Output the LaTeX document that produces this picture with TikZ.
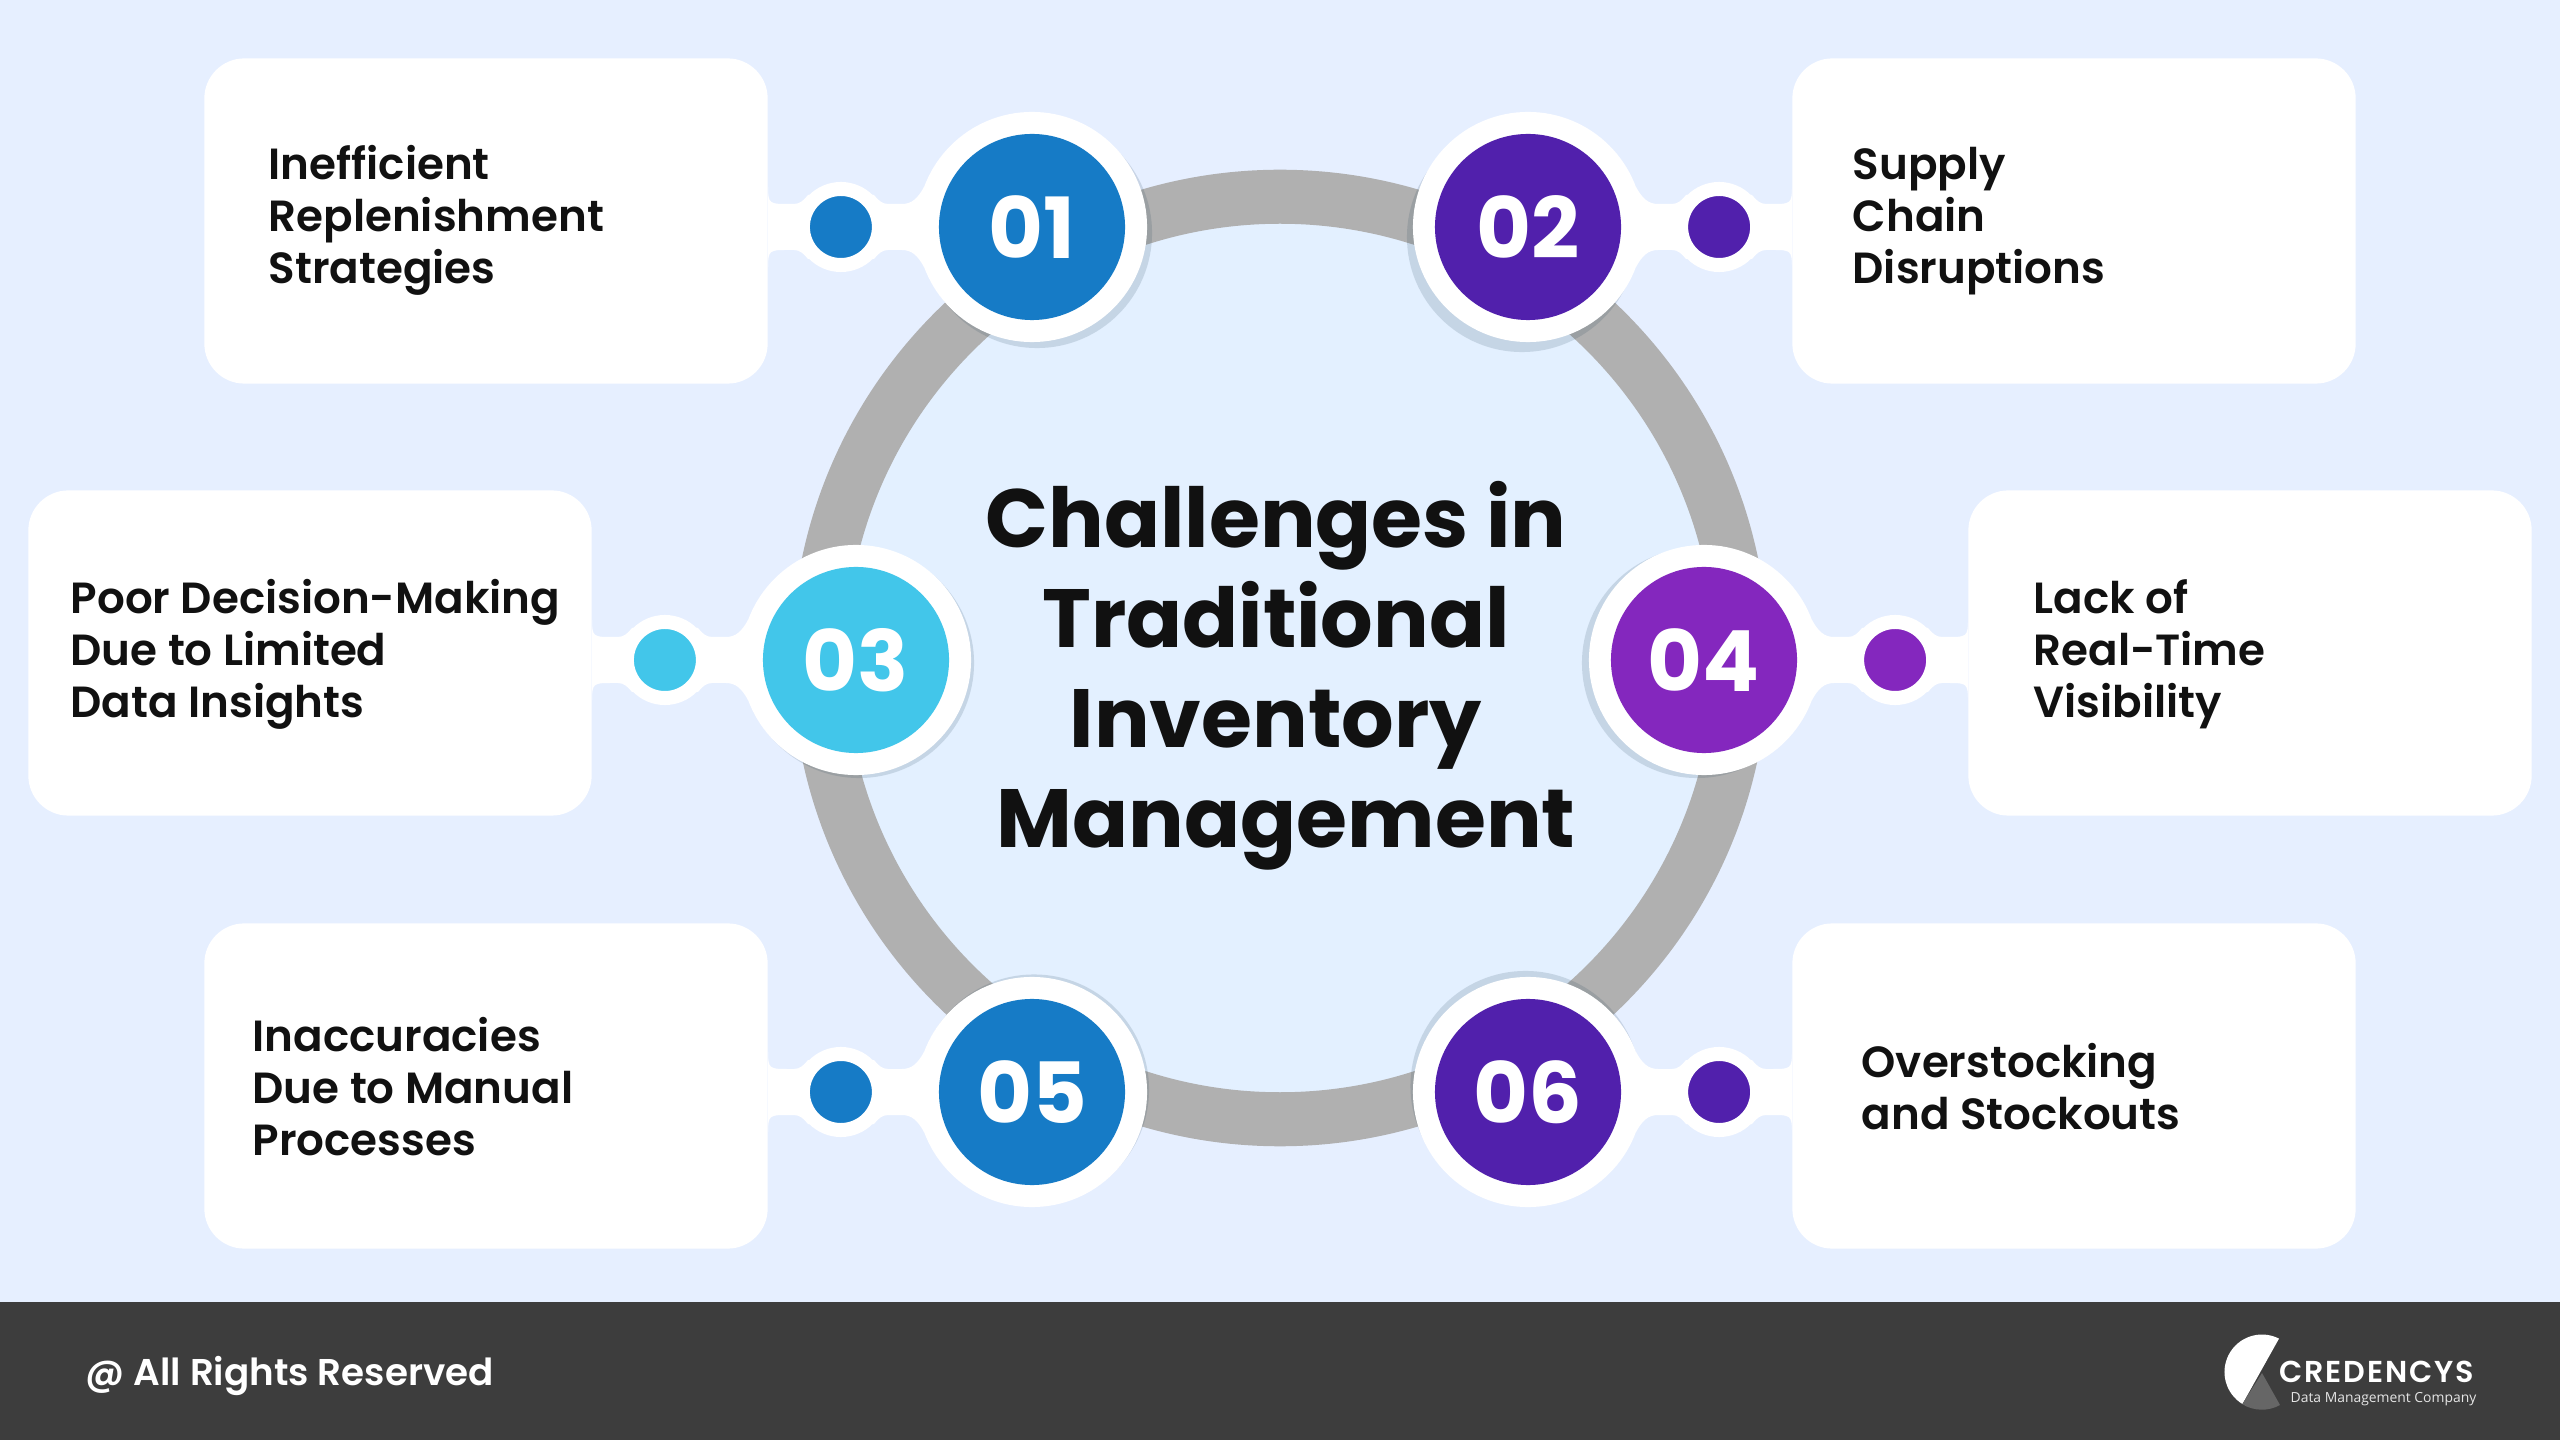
\documentclass[tikz,border=0pt]{standalone}
\usepackage{fontspec}
\usepackage{xcolor}
\usetikzlibrary{shadows, positioning}
\setmainfont{Poppins}
\newfontfamily\semifont{Poppins SemiBold}
\newfontfamily\subfont{Open Sans}
\definecolor{pagebg}{HTML}{E6EFFF}
\definecolor{innerbg}{HTML}{E3F0FF}
\definecolor{ringgray}{HTML}{B0B0B0}
\definecolor{footgray}{HTML}{3D3D3D}
\definecolor{inktext}{HTML}{111111}
\definecolor{shadowtone}{HTML}{1F3F55}
\definecolor{blueone}{HTML}{167BC6}
\definecolor{violetone}{HTML}{5120AC}
\definecolor{skyone}{HTML}{42C6EA}
\definecolor{purpleone}{HTML}{8427BE}

\begin{document}
\begin{tikzpicture}[
    x=0.01cm, y=-0.01cm,
    card/.style = {rectangle, fill=white, rounded corners=0.4cm, minimum width=5.63cm, minimum height=3.25cm, inner sep=0pt},
    cardtext/.style = {anchor=west, align=left, inner sep=0pt, text=inktext, font=\semifont\fontsize{12.4pt}{14.8pt}\selectfont},
    halo/.style 2 args = {circle, fill=white, minimum size=2.3cm, inner sep=0pt, drop shadow={shadow xshift=#1cm, shadow yshift=#2cm, fill=shadowtone, opacity=0.15}},
    badge/.style = {circle, minimum size=1.86cm, inner sep=0pt, text=white, font=\bfseries\fontsize{24pt}{28pt}\selectfont},
    dot/.style = {circle, draw=white, line width=0.14cm, minimum size=0.76cm, inner sep=0pt},
    link/.style = {draw=white, line width=0.46cm},
    neck/.pic = {
        \fill[white] (-264,-40) .. controls (-264,-23) and (-262,-23) .. (-244,-23) -- (-238,-23)
            .. controls (-232,-23) and (-228,-27) .. (-224,-32) -- (-158,-32)
            .. controls (-154,-27) and (-150,-23) .. (-144,-23) -- (-130,-23)
            .. controls (-120,-23) and (-114,-29) .. (-108,-40) -- (-108,0) -- (-264,0) -- cycle;
        \begin{scope}[yscale=-1]
        \fill[white] (-264,-40) .. controls (-264,-23) and (-262,-23) .. (-244,-23) -- (-238,-23)
            .. controls (-232,-23) and (-228,-27) .. (-224,-32) -- (-158,-32)
            .. controls (-154,-27) and (-150,-23) .. (-144,-23) -- (-130,-23)
            .. controls (-120,-23) and (-114,-29) .. (-108,-40) -- (-108,0) -- (-264,0) -- cycle;
        \end{scope}
    }
]
    % page and footer band
    \fill[pagebg] (0,0) rectangle (2560,1440);
    \useasboundingbox (0,0) rectangle (2560,1440);
    \fill[footgray] (0,1302) rectangle (2560,1440);

    % central ring
    \node[circle, draw=ringgray, fill=innerbg, line width=0.54cm, minimum size=9.22cm, inner sep=0pt] (ring) at (1280,658) {};

    % text cards
    \node[card] (card01) at (486,221) {};
    \node[card] (card02) at (2074,221) {};
    \node[card] (card03) at (310,653) {};
    \node[card] (card04) at (2250,653) {};
    \node[card] (card05) at (486,1086) {};
    \node[card] (card06) at (2074,1086) {};

    % white discs behind the numbers, shadows fall towards the middle
    \node[halo={0.05}{-0.06}] (halo01) at (1032,227) {};
    \node[halo={-0.06}{-0.10}] (halo02) at (1528,227) {};
    \node[halo={0.03}{-0.03}] (halo03) at (856,660) {};
    \node[halo={-0.07}{-0.03}] (halo04) at (1704,660) {};
    \node[halo={0.02}{0.025}] (halo05) at (1032,1092) {};
    \node[halo={-0.025}{0.06}] (halo06) at (1528,1092) {};

    % links between cards and discs
    \draw[link] (card01.east |- halo01) -- (halo01);
    \draw[link] (card02.west |- halo02) -- (halo02);
    \draw[link] (card03.east |- halo03) -- (halo03);
    \draw[link] (card04.west |- halo04) -- (halo04);
    \draw[link] (card05.east |- halo05) -- (halo05);
    \draw[link] (card06.west |- halo06) -- (halo06);
    \pic at (halo01) {neck};
    \pic[xscale=-1] at (halo02) {neck};
    \pic at (halo03) {neck};
    \pic[xscale=-1] at (halo04) {neck};
    \pic at (halo05) {neck};
    \pic[xscale=-1] at (halo06) {neck};

    % numbers
    \node[badge, fill=blueone] (badge01) at (halo01) {01};
    \node[badge, fill=violetone] (badge02) at (halo02) {02};
    \node[badge, fill=skyone] (badge03) at (halo03) {03};
    \node[badge, fill=purpleone] (badge04) at (halo04) {04};
    \node[badge, fill=blueone] (badge05) at (halo05) {05};
    \node[badge, fill=violetone] (badge06) at (halo06) {06};

    % small dots on the links
    \node[dot, fill=blueone, left=1.46cm of badge01.center] (dot01) {};
    \node[dot, fill=violetone, right=1.46cm of badge02.center] (dot02) {};
    \node[dot, fill=skyone, left=1.46cm of badge03.center] (dot03) {};
    \node[dot, fill=purpleone, right=1.46cm of badge04.center] (dot04) {};
    \node[dot, fill=blueone, left=1.46cm of badge05.center] (dot05) {};
    \node[dot, fill=violetone, right=1.46cm of badge06.center] (dot06) {};

    % card labels
    \node[cardtext] (text01) at (268,220) {Inefficient\\Replenishment\\Strategies};
    \node[cardtext] (text02) at (1852,221) {Supply\\Chain\\Disruptions};
    \node[cardtext] (text03) at (70,654) {Poor Decision-Making\\Due to Limited\\Data Insights};
    \node[cardtext] (text04) at (2033,654) {Lack of\\Real-Time\\Visibility};
    \node[cardtext] (text05) at (252,1087) {Inaccuracies\\Due to Manual\\Processes};
    \node[cardtext] (text06) at (1861,1087) {Overstocking\\and Stockouts};

    % central title
    \node[align=center, inner sep=0pt, text=inktext, font=\bfseries\fontsize{23.5pt}{28.45pt}\selectfont] (title) at (1276,676) {Challenges in\\Traditional\\Inventory\\\hspace*{0.2cm}Management};

    % footer text and logo
    \node[anchor=west, inner sep=0pt, text=white, font=\semifont\fontsize{10.6pt}{13pt}\selectfont] (rights) at (85,1376) {@ All Rights Reserved};
    \fill[white] (2279,1338.6) arc[start angle=-63, end angle=-238.5, radius=37.5] -- cycle;
    \fill[black!60] (2262,1373) -- (2280,1405) arc[start angle=61, end angle=121.5, radius=37.5] -- cycle;
    \node[anchor=west, inner sep=0pt, text=white, font=\semifont\addfontfeature{LetterSpace=6}\fontsize{8.6pt}{10pt}\selectfont] (brand) at (2279,1372) {CREDENCYS};
    \node[anchor=west, inner sep=0pt, text=white!90!black, font=\subfont\fontsize{3.95pt}{5pt}\selectfont] (tagline) at (2290,1399) {Data Management Company};
\end{tikzpicture}
\end{document}
